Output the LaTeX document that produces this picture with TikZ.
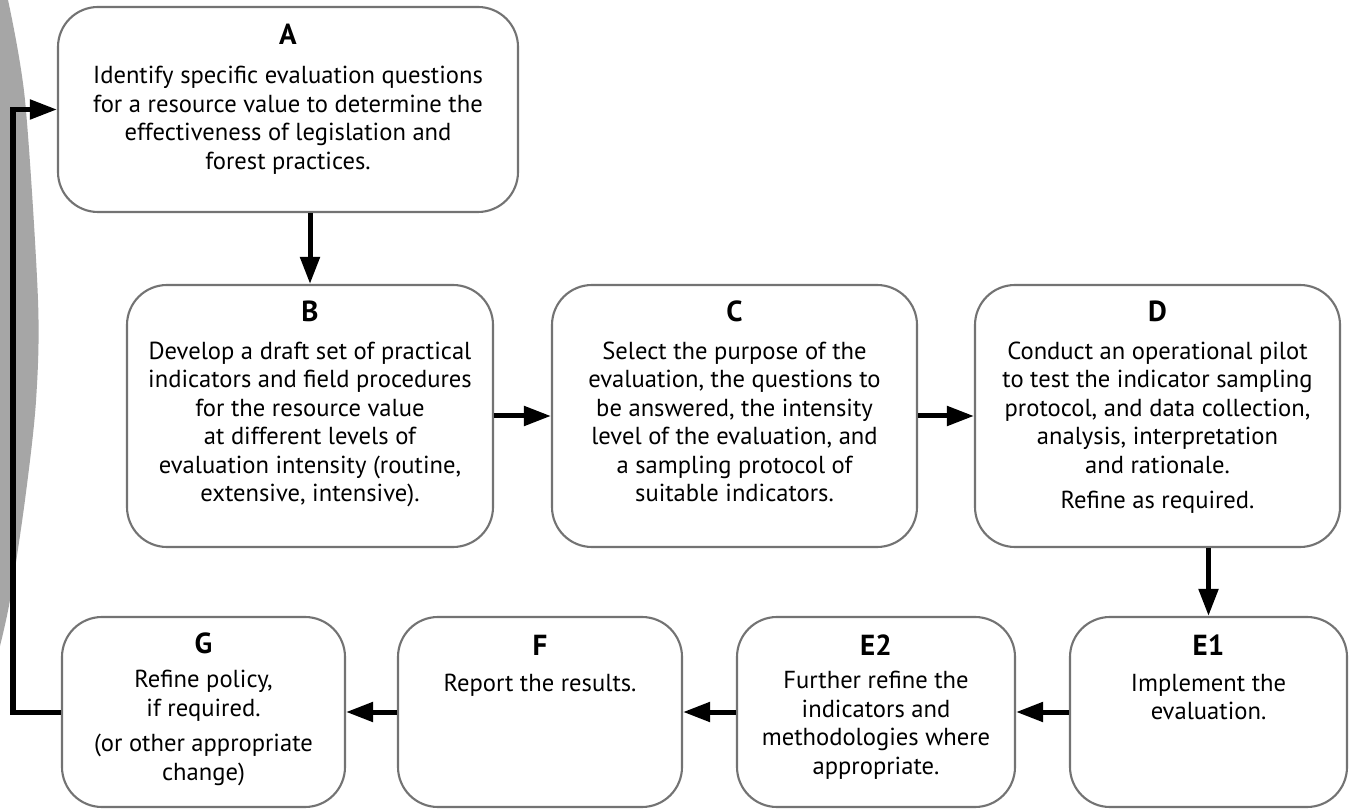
\documentclass[tikz,border=0pt]{standalone}
\usepackage{fontspec}
\setmainfont{PT Sans}
\usetikzlibrary{arrows.meta}

\begin{document}
\begin{tikzpicture}[
  box/.style={draw=black!55, line width=1.2pt, rounded corners=0.8cm, inner sep=0pt},
  head/.style={anchor=base, inner sep=0pt, font=\fontsize{16.5}{18}\selectfont\bfseries},
  body/.style={anchor=north, align=center, inner sep=0pt, font=\fontsize{14}{16.2}\selectfont},
  flow/.style={line width=0.1cm, -{Triangle[length=0.54cm, width=0.38cm]}}
]
  \fill[white] (0,0) rectangle (27.08,16.22);
  \useasboundingbox (0,0) rectangle (27.08,16.22);
  \fill[black!35] plot[smooth] coordinates {(0.16,16.22) (0.5,14.22) (0.76,10.22) (0.72,8.2) (0.5,6.22) (0.2,4.22) (0,3.3)} -- (0,16.22) -- cycle;

  \node[box, minimum width=9.2cm, minimum height=4.1cm] (A) at (5.76,14.03) {};
  \node[box, minimum width=7.32cm, minimum height=5.24cm] (B) at (6.2,7.9) {};
  \node[box, minimum width=7.3cm, minimum height=5.24cm] (C) at (14.69,7.9) {};
  \node[box, minimum width=7.3cm, minimum height=5.24cm] (D) at (23.15,7.9) {};
  \node[box, minimum width=5.54cm, minimum height=3.8cm] (E1) at (24.17,1.98) {};
  \node[box, minimum width=5.56cm, minimum height=3.8cm] (E2) at (17.52,1.98) {};
  \node[box, minimum width=5.68cm, minimum height=3.8cm] (F) at (10.8,1.98) {};
  \node[box, minimum width=5.66cm, minimum height=3.8cm] (G) at (4.07,1.98) {};

  \node[head] (Ah) at ([yshift=-0.78cm]A.north) {A};
  \node[body] (At) at ([yshift=-1.2cm]A.north) {Identify specific evaluation questions\\ for a resource value to determine the\\ effectiveness of legislation and\\ forest practices.};
  \node[head] (Bh) at ([yshift=-0.76cm]B.north) {B};
  \node[body] (Bt) at ([yshift=-1.15cm]B.north) {Develop a draft set of practical\\ indicators and field procedures\\ for the resource value\\ at different levels of\\ evaluation intensity (routine,\\ extensive, intensive).};
  \node[head] (Ch) at ([yshift=-0.76cm]C.north) {C};
  \node[body] (Ct) at ([yshift=-1.15cm]C.north) {Select the purpose of the\\ evaluation, the questions to\\ be answered, the intensity\\ level of the evaluation, and\\ a sampling protocol of\\ suitable indicators.};
  \node[head] (Dh) at ([yshift=-0.76cm]D.north) {D};
  \node[body] (Dt) at ([yshift=-1.15cm]D.north) {Conduct an operational pilot\\ to test the indicator sampling\\ protocol, and data collection,\\ analysis, interpretation\\ and rationale.\\[4pt] Refine as required.};
  \node[head] (E1h) at ([yshift=-0.8cm]E1.north) {E1};
  \node[body] (E1t) at ([yshift=-1.15cm]E1.north) {Implement the\\ evaluation.};
  \node[head] (E2h) at ([yshift=-0.8cm]E2.north) {E2};
  \node[body] (E2t) at ([yshift=-1.1cm]E2.north) {Further refine the\\ indicators and\\ methodologies where\\ appropriate.};
  \node[head] (Fh) at ([yshift=-0.8cm]F.north) {F};
  \node[body] (Ft) at ([yshift=-1.15cm]F.north) {Report the results.};
  \node[head] (Gh) at ([yshift=-0.76cm]G.north) {G};
  \node[body] (Gt) at ([yshift=-1.08cm]G.north) {Refine policy,\\ if required.\\[4pt] (or other appropriate\\ change)};

  \draw[flow] (A.south -| B.north) -- (B.north);
  \draw[flow] (B.east) -- (C.west);
  \draw[flow] (C.east) -- (D.west);
  \draw[flow] (D.south -| E1.north) -- (E1.north);
  \draw[flow] (E1.west) -- (E2.east);
  \draw[flow] (E2.west) -- (F.east);
  \draw[flow] (F.west) -- (G.east);
  \coordinate (turn) at (0.26,0);
  \draw[flow] (G.west) -- (G.west -| turn) |- (A.west);
\end{tikzpicture}
\end{document}
